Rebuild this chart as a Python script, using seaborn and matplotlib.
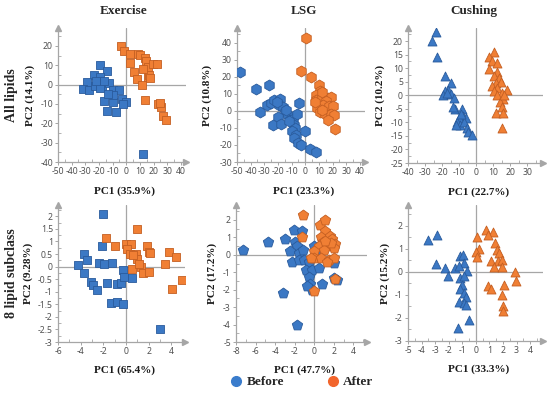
import numpy as np
import pandas as pd
import matplotlib
matplotlib.use("Agg")
import matplotlib.pyplot as plt
import seaborn as sns
from matplotlib.ticker import MultipleLocator, AutoMinorLocator, FuncFormatter
from matplotlib.lines import Line2D

# ---- data (PC1, PC2 scores) ----
# Exercise - all lipids
ex_all_before_x = [-19, -14, -24, -19.5, -29, -32, -27, -23, -18, -13, -19, -10, -5.5, -16.5, -10, -14, -7.5, -3, 0, -2.5, -10, -13.5, 12, -16, -22]
ex_all_before_y = [10, 7, 5, 4, 1.5, -2.5, -3, -0.5, -0.5, 1, -1.5, -3, -3, -8.5, -9, -13.5, -14, -7.5, -9, -10, -5.5, -5, -36, 2, 2]
ex_all_after_x = [-4, -2, 3, 2.5, 8.5, 10, 14, 14.5, 16, 19.5, 22.5, 6, 8, 11.5, 16, 16.5, 17, 14, 23.5, 25.5, 24.5, 27, 29, 12]
ex_all_after_y = [20, 17.5, 11, 16, 16, 15.5, 14, 12, 9, 10.5, 10.5, 6.5, 3, 0, 4, 5, 3.5, -8, -10, -11.5, -9.5, -16, -18.5, 8]

# LSG - all lipids
lsg_all_before_x = [-47.5, -36, -26.5, -33, -28, -25, -23, -18.5, -19.5, -16.5, -15, -20, -23.5, -18, -12.5, -11.5, -9, -8, -4.5, -7.5, -10, -6.5, -8.5, -5.5, -3, -0.5, 3.5, 7.5, -14, -21, -12, -6]
lsg_all_before_y = [23, 13, 15, -0.5, 3.5, 4.5, 6.5, 7, 3.5, 2.5, -0.5, -3.5, -8.5, -7.5, -2.5, -5.5, -4.5, -8.5, 4.5, -10, -12, -14, -16, -19, -20, -11.5, -22.5, -24, 0.5, 5, -6, -2]
lsg_all_after_x = [0.5, -3.5, 4.5, 10, 10.5, 7.5, 8, 12, 16.5, 19, 15.5, 13, 8.5, 17, 20.5, 10.5, 14.5, 19, 21, 16.5, 21.5, 12.5, 7, 12]
lsg_all_after_y = [43, 23.5, 20, 15, 11.5, 9.5, 6.5, 7.5, 7.5, 8.5, 6, 3.5, 2, 3, 3, -0.5, -1.5, -1.5, -2.5, -5.5, -10.5, 0.5, 5, 11]

# Cushing - all lipids
cus_all_before_x = [-23.5, -26, -23, -18.5, -15, -16.5, -18.5, -19.5, -14.5, -13, -12.5, -8.5, -7.5, -6, -10, -11, -9.5, -12, -7, -5.5, -5, -2.5, -17, -9, -13.5]
cus_all_before_y = [23.5, 20, 14, 7, 4.5, 2, 1.5, 0, 0.5, -1, -5, -5, -7.5, -8.5, -8.5, -10, -11, -11, -10, -12, -13.5, -14.5, 1, -7, -4.5]
cus_all_after_x = [10.5, 7.5, 9.5, 12.5, 7.5, 12.5, 10.5, 13.5, 11.5, 14.5, 9.5, 12.5, 18, 15, 10.5, 12.5, 16, 14, 15, 12, 16, 15, 16.5]
cus_all_after_y = [16, 14, 12.5, 12, 9.5, 8.5, 7, 6.5, 4.5, 5, 3.5, 2.5, 2, 1, 1.5, 0, -1.5, -2.5, -4.5, -6.5, -6.5, -12, 0]

# Exercise - 8 lipid subclass
ex_sub_before_x = [-2.0, -2.15, -3.7, -3.4, -4.2, -3.7, -2.35, -1.95, -1.2, -3.1, -2.95, -2.55, -1.65, -0.8, -0.4, -0.3, -0.15, 0.55, -1.3, -0.8, -0.3, 3.0]
ex_sub_before_y = [2.1, 0.8, 0.5, 0.25, 0.05, -0.25, 0.15, 0.1, 0.15, -0.6, -0.75, -0.95, -0.65, -0.7, -0.65, -0.15, -0.4, -0.45, -1.45, -1.4, -1.5, -2.5]
ex_sub_after_x = [-1.75, 1.0, -0.95, 0.0, 0.4, 0.05, 0.35, 0.9, 1.0, 1.85, 2.0, 2.1, 0.5, 1.3, 1.5, 2.0, 3.4, 3.75, 4.45, 4.95, 4.05, 1.1, 0.65]
ex_sub_after_y = [1.15, 1.5, 0.8, 0.9, 0.9, 0.7, 0.5, 0.5, 0.3, 0.8, 0.6, 0.55, -0.1, 0.0, -0.25, -0.2, 0.1, 0.6, 0.4, -0.55, -0.9, 0.1, 0.45]

# LSG - 8 lipid subclass
lsg_sub_before_x = [-7.25, -4.7, -3.0, -3.2, -1.75, -2.1, -1.25, -1.95, -1.75, -2.45, -2.3, -1.6, -1.1, -1.6, -1.0, -0.55, -0.8, -0.25, -0.55, -0.4, 0.45, 0.8, -0.05, 2.0, 2.35, 2.05, -0.25, -0.7, 0.3]
lsg_sub_before_y = [0.25, 0.75, 0.9, -2.2, -4.0, 1.4, 1.35, 0.75, 0.5, 0.2, -0.4, 0.1, 0.25, -0.3, -0.3, -0.4, -0.85, -0.85, -1.25, -1.65, -0.75, -1.7, 0.5, -1.35, -1.45, -0.45, -2.0, -1.8, 0.3]
lsg_sub_after_x = [-1.15, -1.25, 0.55, 1.15, 1.15, 0.65, 1.6, 1.85, 2.15, 0.95, 0.45, 1.3, 2.0, 1.05, 0.0, -0.05, -0.35, 0.65, 1.5, 2.05, 1.3, 2.15, -0.05, 1.75, 1.1]
lsg_sub_after_y = [2.3, 1.05, 1.7, 2.0, 1.35, 1.05, 1.1, 0.9, 0.65, 0.75, 0.5, 0.5, 0.4, 0.25, 0.2, -0.2, -0.2, -0.2, -0.3, -0.2, -0.4, -1.4, -2.05, 0.7, 0.8]

# Cushing - 8 lipid subclass
cus_sub_before_x = [-3.5, -2.85, -2.95, -2.3, -2.05, -1.55, -1.2, -0.95, -0.9, -1.25, -0.65, -1.2, -0.9, -1.0, -1.2, -0.9, -0.75, -1.25, -0.9, -0.7, -0.5, -1.3]
cus_sub_before_y = [1.4, 1.6, 0.35, 0.15, -0.2, 0.15, 0.7, 0.75, 0.4, 0.25, 0.05, -0.25, -0.2, -0.55, -0.75, -0.9, -1.1, -1.3, -1.35, -1.45, -2.1, -2.45]
cus_sub_after_x = [0.1, 0.75, 1.25, 0.9, 1.4, 0.2, 0.0, 0.1, 1.55, 1.7, 1.15, 1.65, 1.95, 1.35, 1.95, 2.9, 2.95, 2.05, 0.9, 1.15, 1.95, 2.0, 2.0]
cus_sub_after_y = [1.5, 1.8, 1.75, 1.6, 1.25, 1.0, 0.85, 0.65, 0.95, 0.8, 0.45, 0.45, 0.5, 0.2, 0.2, 0.0, -0.4, -0.55, -0.6, -0.75, -1.0, -1.5, -1.7]

col_titles = ["Exercise", "LSG", "Cushing"]
row_titles = ["All lipids", "8 lipid subclass"]
pc1_labels = ["PC1 (35.9%)", "PC1 (23.3%)", "PC1 (22.7%)", "PC1 (65.4%)", "PC1 (47.7%)", "PC1 (33.3%)"]
pc2_labels = ["PC2 (14.1%)", "PC2 (10.8%)", "PC2 (10.2%)", "PC2 (9.28%)", "PC2 (17.2%)", "PC2 (15.2%)"]

BLUE, BLUE_E = "#3b78c4", "#2a5b9c"
ORANGE, ORANGE_E = "#f07f34", "#c45f22"
GRAY = "#a6a6a6"

sns.set_style("ticks")
plt.rcParams["font.family"] = ["Liberation Serif", "DejaVu Serif"]
plt.rcParams["axes.unicode_minus"] = False

fig = plt.figure(figsize=(5.5, 3.94), dpi=100)
W, H = 550, 394

def add_ax(l, r, t, b):
    return fig.add_axes([l / W, 1 - b / H, (r - l) / W, (b - t) / H])

panels = [
    # box (l, r, t, b), data, marker, size, xlim, ylim, xstep, ystep, labelx, labely
    ((58, 186, 28, 162), (ex_all_before_x, ex_all_before_y, ex_all_after_x, ex_all_after_y), "s", 38,
     (-50, 43.7), (-40, 29.3), 10, 10, -0.18, -0.18),
    ((237, 365, 28, 162), (lsg_all_before_x, lsg_all_before_y, lsg_all_after_x, lsg_all_after_y), "h", 62,
     (-50, 43.7), (-30, 48.8), 10, 10, -0.195, -0.18),
    ((408, 543, 28, 163), (cus_all_before_x, cus_all_before_y, cus_all_after_x, cus_all_after_y), "^", 42,
     (-40, 39.4), (-25, 24.8), 10, 5, -0.17, -0.18),
    ((58, 185, 205, 342), (ex_sub_before_x, ex_sub_before_y, ex_sub_after_x, ex_sub_after_y), "s", 38,
     (-6, 5.2), (-3, 2.45), 2, 0.5, -0.2, -0.17),
    ((236, 367, 205, 342), (lsg_sub_before_x, lsg_sub_before_y, lsg_sub_after_x, lsg_sub_after_y), "p", 62,
     (-8, 5.4), (-5, 2.86), 2, 1, -0.145, -0.17),
    ((408, 543, 205, 341), (cus_sub_before_x, cus_sub_before_y, cus_sub_after_x, cus_sub_after_y), "^", 42,
     (-5, 4.95), (-3, 2.9), 1, 1, -0.13, -0.17),
]

fmt = FuncFormatter(lambda v, p: "%g" % v)

for i, (box, d, mk, sz, xl, yl, xs, ys, lx, ly) in enumerate(panels):
    ax = add_ax(*box)
    bx, by, axx, ayy = d
    df_b = pd.DataFrame({"pc1": bx, "pc2": by})
    df_a = pd.DataFrame({"pc1": axx, "pc2": ayy})
    ax.axhline(0, color=GRAY, lw=0.9, zorder=0)
    ax.axvline(0, color=GRAY, lw=0.9, zorder=0)
    sns.scatterplot(data=df_b, x="pc1", y="pc2", marker=mk, s=sz, color=BLUE,
                    edgecolor=BLUE_E, linewidth=0.6, ax=ax, zorder=3)
    sns.scatterplot(data=df_a, x="pc1", y="pc2", marker=mk, s=sz, color=ORANGE,
                    edgecolor=ORANGE_E, linewidth=0.6, ax=ax, zorder=4)
    ax.set_xlim(*xl)
    ax.set_ylim(*yl)
    ax.xaxis.set_major_locator(MultipleLocator(xs))
    ax.yaxis.set_major_locator(MultipleLocator(ys))
    ax.xaxis.set_minor_locator(AutoMinorLocator(2))
    ax.yaxis.set_minor_locator(AutoMinorLocator(2))
    ax.xaxis.set_major_formatter(fmt)
    ax.yaxis.set_major_formatter(fmt)
    for s in ["top", "right"]:
        ax.spines[s].set_visible(False)
    for s in ["left", "bottom"]:
        ax.spines[s].set_color(GRAY)
        ax.spines[s].set_linewidth(0.9)
    ax.tick_params(which="major", direction="out", length=2.5, width=0.7, color=GRAY,
                   labelsize=6.2, labelcolor="#505050", pad=1.2)
    ax.tick_params(which="minor", direction="in", length=2, width=0.6, color=GRAY)
    for lab in ax.get_xticklabels() + ax.get_yticklabels():
        lab.set_fontfamily(["Noto Sans", "DejaVu Sans"])
    # arrow heads at the spine ends
    ax.plot([1], [0], marker=">", ms=5, color=GRAY, transform=ax.transAxes, clip_on=False)
    ax.plot([0], [1], marker="^", ms=5, color=GRAY, transform=ax.transAxes, clip_on=False)
    ax.set_xlabel(pc1_labels[i], fontsize=8, fontweight="bold", color="#1a1a1a")
    ax.set_ylabel(pc2_labels[i], fontsize=8, fontweight="bold", color="#1a1a1a")
    ax.xaxis.set_label_coords(0.52, ly)
    ax.yaxis.set_label_coords(lx, 0.5)

for x, t in zip([124, 304, 474], col_titles):
    fig.text(x / W, 1 - 11 / H, t, ha="center", va="center", fontsize=9.5, fontweight="bold")
for y, t in zip([95, 273], row_titles):
    fig.text(12 / W, 1 - y / H, t, ha="center", va="center", rotation=90, fontsize=10, fontweight="bold")

handles = [
    Line2D([], [], marker="o", ls="", ms=7, color="#3a7ccc", label="Before"),
    Line2D([], [], marker="o", ls="", ms=7, color="#f2652c", label="After"),
]
fig.legend(handles=handles, loc="center", bbox_to_anchor=(302 / W, 1 - 382 / H), ncol=2,
           frameon=False, prop={"weight": "bold", "size": 9.5}, handlelength=0.8,
           handletextpad=0.4, columnspacing=3.3, borderpad=0)

fig.savefig("out.png", dpi=100)
